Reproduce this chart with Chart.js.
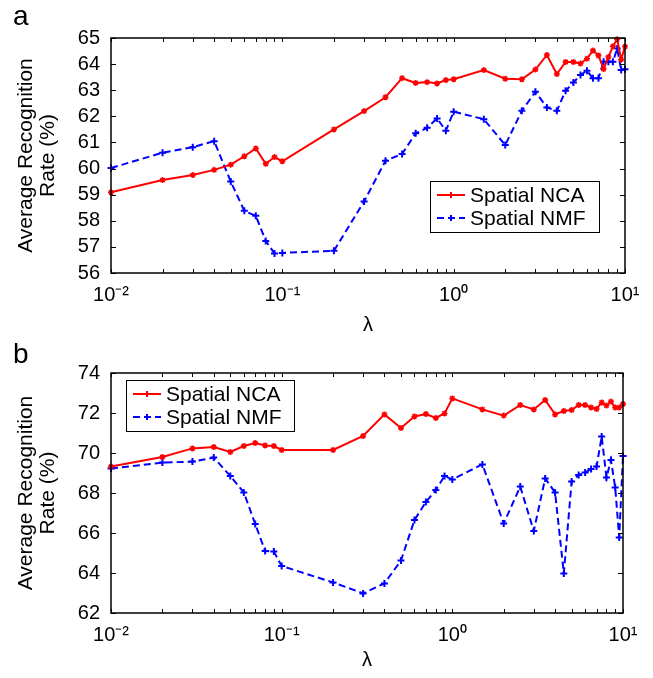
<!DOCTYPE html>
<html>
<head>
<meta charset="utf-8">
<script src="https://cdn.jsdelivr.net/npm/chart.js@4.4.1/dist/chart.umd.min.js"></script>
<style>
body { margin: 0; background: #fff; width: 653px; height: 678px; position: relative; overflow: hidden; }
.panel { position: absolute; left: 0; width: 653px; }
</style>
</head>
<body>
<div class="panel" style="top:0;height:340px"><canvas id="panelA"></canvas></div>
<div class="panel" style="top:335px;height:343px"><canvas id="panelB"></canvas></div>
<script>
// lambda values (x axis, log scale)
var lambdas = [0.01, 0.02, 0.03, 0.04, 0.05, 0.06, 0.07, 0.08, 0.09,
               0.1, 0.2, 0.3, 0.4, 0.5, 0.6, 0.7, 0.8, 0.9,
               1, 1.5, 2, 2.5, 3, 3.5, 4, 4.5, 5, 5.5, 6, 6.5, 7, 7.5, 8, 8.5, 9, 9.5, 10];

// panel a
var ncaA = [59.09, 59.56, 59.75, 59.95, 60.15, 60.47, 60.77, 60.18, 60.44,
            60.28, 61.5, 62.2, 62.73, 63.46, 63.28, 63.31, 63.26, 63.39,
            63.42, 63.77, 63.44, 63.42, 63.79, 64.35, 63.62, 64.08, 64.08, 64.02, 64.21, 64.52, 64.33, 63.81, 64.27, 64.68, 64.95, 64.18, 64.67];
var nmfA = [60.02, 60.61, 60.82, 61.05, 59.5, 58.38, 58.19, 57.23, 56.75,
            56.77, 56.85, 58.74, 60.3, 60.56, 61.35, 61.56, 61.92, 61.45,
            62.18, 61.89, 60.9, 62.21, 62.94, 62.34, 62.21, 62.98, 63.3, 63.58, 63.75, 63.46, 63.46, 64.09, 64.09, 64.09, 64.6, 63.77, 63.8];

// panel b
var ncaB = [69.32, 69.8, 70.23, 70.3, 70.05, 70.35, 70.5, 70.38, 70.35,
            70.15, 70.15, 70.85, 71.93, 71.25, 71.83, 71.95, 71.75, 71.98,
            72.73, 72.18, 71.87, 72.4, 72.18, 72.65, 71.93, 72.1, 72.15, 72.4, 72.4, 72.28, 72.2, 72.53, 72.37, 72.57, 72.27, 72.27, 72.45];
var nmfB = [69.22, 69.52, 69.57, 69.77, 68.85, 68.03, 66.45, 65.1, 65.07,
            64.35, 63.53, 62.98, 63.48, 64.62, 66.65, 67.55, 68.15, 68.85,
            68.68, 69.43, 66.48, 68.32, 66.1, 68.73, 68.02, 63.98, 68.57, 68.9, 69.02, 69.2, 69.32, 70.82, 68.78, 69.65, 68.28, 65.78, 69.85];

var seriesNames = ['Spatial NCA', 'Spatial NMF'];
var decadeLabels = {'0.01': '10\u207B\u00B2', '0.1': '10\u207B\u00B9', '1': '10\u2070', '10': '10\u00B9'};

var FONT = "'Liberation Sans', Arial, sans-serif";

function points(ys) {
    return lambdas.map(function (x, i) { return {x: x, y: ys[i]}; });
}

// matlab style box, inward ticks, panel letter and legend
var matlabAxes = {
    id: 'matlabAxes',
    afterDatasetsDraw: function (chart, args, opts) {
        var ctx = chart.ctx, a = chart.chartArea;
        var xs = chart.scales.x, ys = chart.scales.y;
        ctx.save();
        ctx.strokeStyle = '#000';
        ctx.lineWidth = 1;
        ctx.beginPath();
        for (var d = 0.01; d < 5; d *= 10) {
            for (var k = 1; k <= 10; k++) {
                var px = Math.round(xs.getPixelForValue(d * k)) + 0.5;
                ctx.moveTo(px, a.bottom); ctx.lineTo(px, a.bottom - 4);
                ctx.moveTo(px, a.top); ctx.lineTo(px, a.top + 4);
            }
        }
        ys.ticks.forEach(function (t) {
            var py = Math.round(ys.getPixelForValue(t.value)) + 0.5;
            ctx.moveTo(a.left, py); ctx.lineTo(a.left + 5, py);
            ctx.moveTo(a.right, py); ctx.lineTo(a.right - 5, py);
        });
        ctx.stroke();
        ctx.lineWidth = 1.5;
        ctx.strokeRect(a.left, a.top, a.right - a.left, a.bottom - a.top);

        // panel letter
        ctx.fillStyle = '#000';
        ctx.font = '28px ' + FONT;
        ctx.textBaseline = 'alphabetic';
        ctx.fillText(opts.letter, 13, opts.letterY);

        // legend
        var L = opts.legend;
        ctx.fillStyle = '#fff';
        ctx.fillRect(L.x, L.y, L.w, L.h);
        ctx.lineWidth = 1;
        ctx.strokeStyle = '#000';
        ctx.strokeRect(L.x + 0.5, L.y + 0.5, L.w, L.h);
        ctx.font = '21px ' + FONT;
        ctx.textBaseline = 'middle';
        chart.data.datasets.forEach(function (ds, i) {
            var cy = L.y + 14 + i * 23;
            var x0 = L.x + 7, x1 = L.x + 35;
            ctx.strokeStyle = ds.borderColor;
            ctx.lineWidth = 2;
            ctx.setLineDash(ds.borderDash || []);
            ctx.beginPath(); ctx.moveTo(x0, cy); ctx.lineTo(x1, cy); ctx.stroke();
            ctx.setLineDash([]);
            var mx = (x0 + x1) / 2;
            ctx.beginPath();
            ctx.moveTo(mx - 3, cy); ctx.lineTo(mx + 3, cy);
            ctx.moveTo(mx, cy - 3); ctx.lineTo(mx, cy + 3);
            ctx.stroke();
            ctx.fillStyle = '#000';
            ctx.fillText(ds.label, L.x + 40, cy + 1);
        });
        ctx.restore();
    }
};

function makePanel(id, nca, nmf, yMin, yMax, yStep, xAxisH, titlePad, padRight, opts) {
    return new Chart(document.getElementById(id), {
        type: 'line',
        data: {
            datasets: [{
                label: seriesNames[0],
                data: points(nca),
                borderColor: '#ff0000',
                backgroundColor: '#ff0000',
                borderWidth: 2,
                pointStyle: 'star',
                pointRadius: 3,
                pointBorderWidth: 1.5,
                tension: 0,
                clip: 4
            }, {
                label: seriesNames[1],
                data: points(nmf),
                borderColor: '#0000ff',
                backgroundColor: '#0000ff',
                borderWidth: 2,
                borderDash: [7, 4],
                pointStyle: 'cross',
                pointRadius: 3.5,
                pointBorderWidth: 2,
                tension: 0,
                clip: 4
            }]
        },
        options: {
            responsive: true,
            maintainAspectRatio: false,
            animation: false,
            layout: {padding: {top: 38, right: padRight, bottom: 0, left: 0}},
            plugins: {
                legend: {display: false},
                tooltip: {enabled: false},
                matlabAxes: opts
            },
            scales: {
                x: {
                    type: 'logarithmic',
                    min: 0.01,
                    max: 10,
                    afterBuildTicks: function (scale) {
                        scale.ticks = [{value: 0.01}, {value: 0.1}, {value: 1}, {value: 10}];
                    },
                    afterFit: function (scale) { scale.height = xAxisH; },
                    grid: {display: false, drawTicks: false},
                    border: {display: false},
                    ticks: {
                        autoSkip: false,
                        maxRotation: 0,
                        padding: 10,
                        color: '#000',
                        font: {family: FONT, size: 20},
                        callback: function (v) { return decadeLabels[String(v)] || ''; }
                    },
                    title: {
                        display: true,
                        text: '\u03BB',
                        color: '#000',
                        font: {family: FONT, size: 20},
                        padding: {top: 0, bottom: titlePad}
                    }
                },
                y: {
                    min: yMin,
                    max: yMax,
                    afterFit: function (scale) { scale.width = 111; },
                    grid: {display: false, drawTicks: false},
                    border: {display: false},
                    ticks: {
                        stepSize: yStep,
                        autoSkip: false,
                        padding: 11,
                        color: '#000',
                        font: {family: FONT, size: 20}
                    },
                    title: {
                        display: true,
                        text: ['Average Recognition', 'Rate (%)'],
                        color: '#000',
                        font: {family: FONT, size: 21, lineHeight: 1.05},
                        padding: {top: 15, bottom: 0}
                    }
                }
            }
        },
        plugins: [matlabAxes]
    });
}

makePanel('panelA', ncaA, nmfA, 56, 65, 1, 67, 3, 28,
    {letter: 'a', letterY: 25, legend: {x: 430, y: 181, w: 169, h: 51}});
makePanel('panelB', ncaB, nmfB, 62, 74, 2, 65, 6, 30,
    {letter: 'b', letterY: 28, legend: {x: 126, y: 45, w: 168, h: 51}});
</script>
</body>
</html>
